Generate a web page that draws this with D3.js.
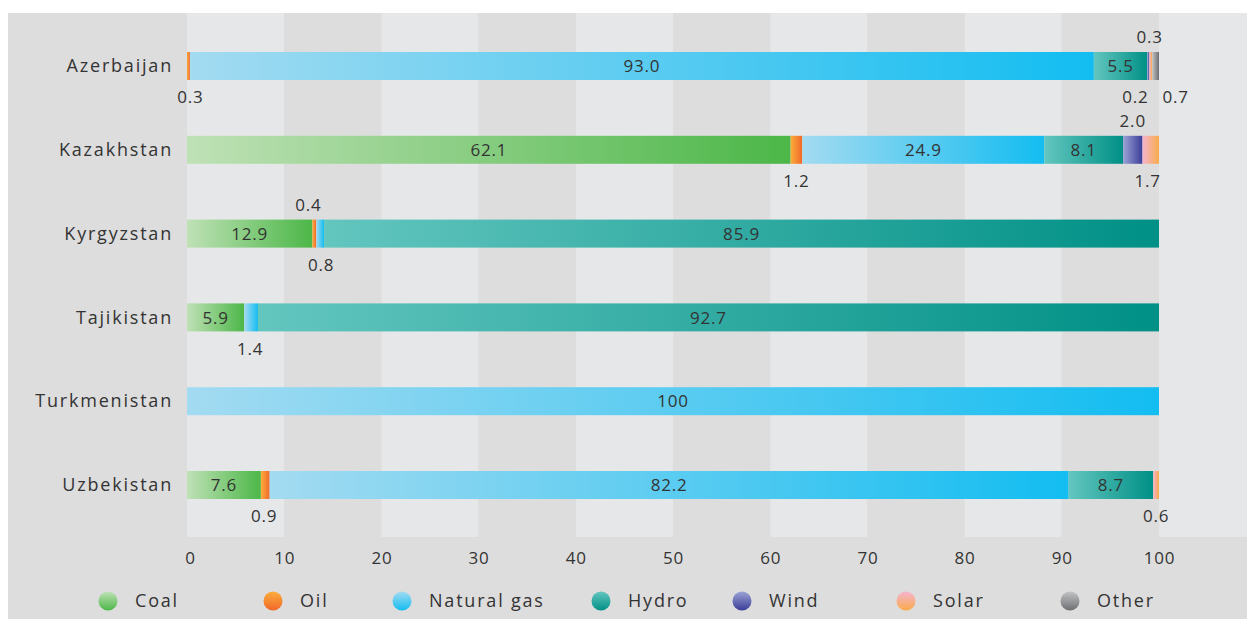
<!DOCTYPE html>
<html>
<head>
<meta charset="utf-8">
<script src="https://cdn.jsdelivr.net/npm/d3@7"></script>
<style>
  html, body { margin: 0; padding: 0; background: #ffffff; }
  svg { display: block; }
  text { font-family: "Open Sans", "Lato", sans-serif; fill: #333333; }
  .num { letter-spacing: 0.8px; }
  .word { letter-spacing: 1.8px; }
</style>
</head>
<body>
<svg id="chart" width="1247" height="619"></svg>
<script>
// Electricity generation mix by source, % share
const countries = ["Azerbaijan", "Kazakhstan", "Kyrgyzstan", "Tajikistan", "Turkmenistan", "Uzbekistan"];
const sources = ["Coal", "Oil", "Natural gas", "Hydro", "Wind", "Solar", "Other"];

const coal       = [0,    62.1, 12.9, 5.9,  0,   7.6];
const oil        = [0.3,  1.2,  0.4,  0,    0,   0.9];
const naturalGas = [93.0, 24.9, 0.8,  1.4,  100, 82.2];
const hydro      = [5.5,  8.1,  85.9, 92.7, 0,   8.7];
const wind       = [0.2,  2.0,  0,    0,    0,   0];
const solar      = [0.3,  1.7,  0,    0,    0,   0.6];
const other      = [0.7,  0,    0,    0,    0,   0];

const tickValues = [0, 10, 20, 30, 40, 50, 60, 70, 80, 90, 100];

// Small shares are labelled outside the bar: [country, source, side, horizontal nudge]
const outsideLabels = [
  ["Azerbaijan", "Oil", "below", 2],
  ["Azerbaijan", "Wind", "below", -13],
  ["Azerbaijan", "Solar", "above", -1],
  ["Azerbaijan", "Other", "below", 20],
  ["Kazakhstan", "Oil", "below", 0],
  ["Kazakhstan", "Wind", "above", 0],
  ["Kazakhstan", "Solar", "below", -3],
  ["Kyrgyzstan", "Oil", "above", -6],
  ["Kyrgyzstan", "Natural gas", "below", 1],
  ["Tajikistan", "Natural gas", "below", -1],
  ["Uzbekistan", "Oil", "below", -1],
  ["Uzbekistan", "Solar", "below", 0]
];

const seriesValues = [coal, oil, naturalGas, hydro, wind, solar, other];

// Gradient stops per source: [light, dark]
const palette = {
  "Coal":        ["#bfe1b6", "#4cb748"],
  "Oil":         ["#fbad3c", "#f1682a"],
  "Natural gas": ["#a3dbf1", "#13bdf1"],
  "Hydro":       ["#63c6bf", "#009086"],
  "Wind":        ["#9ca3d5", "#3a3d98"],
  "Solar":       ["#f4b4d0", "#fbab4a"],
  "Other":       ["#c2c3c5", "#6e6f72"]
};

const svg = d3.select("#chart");
const W = 1247;
const panel = { left: 8, top: 13, right: 1247, bottom: 619 };
const plot = { left: 187, top: 13, bottom: 537 };

const x = d3.scaleLinear().domain([0, 100]).range([187, 1159]);
const y = d3.scalePoint().domain(countries).range([66, 485]);

// Gradients
const defs = svg.append("defs");
sources.forEach((s, i) => {
  const g = defs.append("linearGradient").attr("id", "h" + i)
    .attr("x1", "0%").attr("x2", "100%").attr("y1", "0%").attr("y2", "0%");
  g.append("stop").attr("offset", "0%").attr("stop-color", palette[s][0]);
  g.append("stop").attr("offset", "100%").attr("stop-color", palette[s][1]);
  const v = defs.append("linearGradient").attr("id", "v" + i)
    .attr("x1", "0%").attr("x2", "0%").attr("y1", "0%").attr("y2", "100%");
  v.append("stop").attr("offset", "0%").attr("stop-color", palette[s][0]);
  v.append("stop").attr("offset", "100%").attr("stop-color", palette[s][1]);
});

// Panel background
svg.append("rect")
  .attr("x", panel.left).attr("y", panel.top)
  .attr("width", panel.right - panel.left).attr("height", panel.bottom - panel.top)
  .attr("fill", "#dddddd");

// Alternating vertical bands, light band continuing past 100
const bandEdges = tickValues.concat([110]);
svg.append("g").selectAll("rect")
  .data(d3.range(bandEdges.length - 1))
  .join("rect")
  .attr("x", i => x(bandEdges[i]))
  .attr("y", plot.top)
  .attr("width", i => i === bandEdges.length - 2 ? W - x(bandEdges[i]) : x(bandEdges[i + 1]) - x(bandEdges[i]))
  .attr("height", plot.bottom - plot.top)
  .attr("fill", i => i % 2 === 0 ? "#e6e7e8" : "#dddddd");

// Stack the series
const rows = countries.map((c, ci) => {
  const r = { country: c };
  sources.forEach((s, si) => { r[s] = seriesValues[si][ci]; });
  return r;
});
const stacked = d3.stack().keys(sources)(rows);

const barH = 28;
const barY = c => y(c) - barH / 2;

const layers = svg.append("g").selectAll("g")
  .data(stacked)
  .join("g")
  .attr("fill", (d, i) => "url(#h" + i + ")");

layers.selectAll("rect")
  .data(d => d.map(p => ({ key: d.key, p })))
  .join("rect")
  .filter(d => d.p[1] - d.p[0] > 0)
  .attr("x", d => x(d.p[0]))
  .attr("y", d => barY(d.p.data.country))
  .attr("width", d => x(d.p[1]) - x(d.p[0]))
  .attr("height", barH);

// Inside labels for segments wide enough
const fontSize = 17;
const wordSize = 18;
const insideLabels = [];
stacked.forEach(layer => {
  layer.forEach(p => {
    const v = p[1] - p[0];
    if (v >= 5) insideLabels.push({ country: p.data.country, v, mid: (p[0] + p[1]) / 2 });
  });
});
svg.append("g").selectAll("text")
  .data(insideLabels)
  .join("text")
  .attr("class", "num")
  .attr("x", d => x(d.mid))
  .attr("y", d => y(d.country))
  .attr("dy", "0.36em")
  .attr("text-anchor", "middle")
  .attr("font-size", fontSize)
  .text(d => d.v === 100 ? "100" : d3.format(".1f")(d.v));

// Outside labels
svg.append("g").selectAll("text")
  .data(outsideLabels)
  .join("text")
  .attr("class", "num")
  .attr("x", d => {
    const si = sources.indexOf(d[1]);
    const p = stacked[si][countries.indexOf(d[0])];
    return x((p[0] + p[1]) / 2) + d[3];
  })
  .attr("y", d => d[2] === "above" ? y(d[0]) - 29 : y(d[0]) + 31)
  .attr("dy", "0.36em")
  .attr("text-anchor", "middle")
  .attr("font-size", fontSize)
  .text(d => {
    const si = sources.indexOf(d[1]);
    return d3.format(".1f")(seriesValues[si][countries.indexOf(d[0])]);
  });

// Category axis
const yAxis = svg.append("g")
  .attr("transform", "translate(" + (plot.left - 14) + ",0)")
  .call(d3.axisLeft(y).tickSize(0).tickPadding(0));
yAxis.select(".domain").remove();
yAxis.selectAll("text").attr("class", "word").attr("font-size", wordSize).attr("fill", "#333")
  .style("font-family", "'Open Sans', sans-serif");

// Value axis
const xAxis = svg.append("g")
  .attr("transform", "translate(0," + 558 + ")")
  .call(d3.axisBottom(x).tickValues(tickValues).tickSize(0).tickPadding(0).tickFormat(d3.format("d")));
xAxis.select(".domain").remove();
xAxis.selectAll("text").attr("class", "num").attr("font-size", fontSize).attr("fill", "#333").attr("dy", "0.36em")
  .style("font-family", "'Open Sans', sans-serif");
xAxis.selectAll(".tick").filter(d => d === 0).select("text").attr("dx", 3);

// Legend
const legendX = [108, 273, 402, 601, 742, 906, 1070];
const legend = svg.append("g").selectAll("g")
  .data(sources)
  .join("g")
  .attr("transform", (d, i) => "translate(" + legendX[i] + ",601)");
legend.append("circle").attr("r", 9.5).attr("fill", (d, i) => "url(#v" + i + ")");
legend.append("text").attr("class", "word").attr("x", 27).attr("dy", "0.36em")
  .attr("font-size", wordSize).text(d => d);
</script>
</body>
</html>
